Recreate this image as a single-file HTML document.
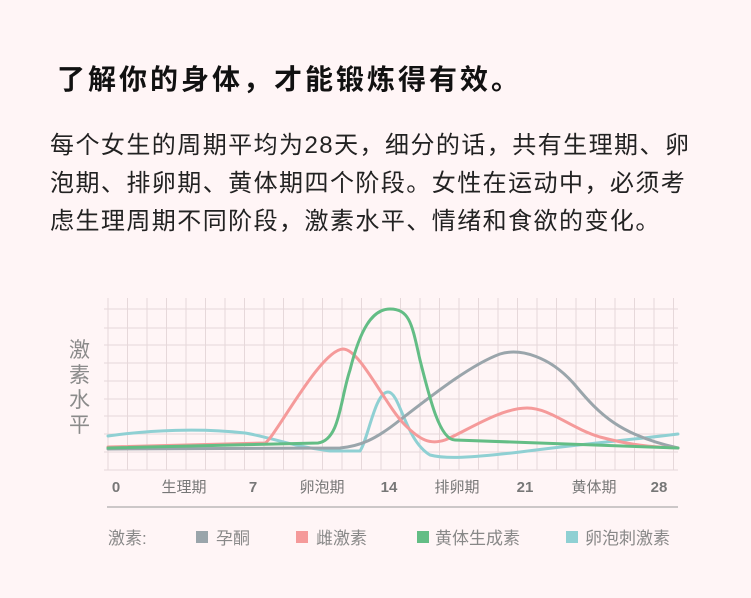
<!DOCTYPE html>
<html><head><meta charset="utf-8"><style>
body{margin:0;width:751px;height:598px;background:#fff5f6;font-family:"Liberation Sans","Noto Sans CJK SC",sans-serif;overflow:hidden;position:relative}
.t{position:absolute;left:57px;top:58px;font-size:28px;font-weight:bold;color:#111;letter-spacing:3px;white-space:nowrap}
.p{position:absolute;left:50px;top:127px;font-size:24px;line-height:38px;color:#222;letter-spacing:1.45px;width:720px;white-space:nowrap}
</style></head><body>
<div class="t">了解你的身体，才能锻炼得有效。</div>
<div class="p">每个女生的周期平均为28天，细分的话，共有生理期、卵<br>泡期、排卵期、黄体期四个阶段。女性在运动中，必须考<br>虑生理周期不同阶段，激素水平、情绪和食欲的变化。</div>
<svg width="751" height="598" style="position:absolute;left:0;top:0" font-family="Liberation Sans, Noto Sans CJK SC, sans-serif">
<g stroke="#e6d8da" stroke-width="1">
<path d="M108 298V470M127.5 298V470M147 298V470M166.5 298V470M186 298V470M205.5 298V470M225 298V470M244.5 298V470M264 298V470M283.5 298V470M303 298V470M322.5 298V470M342 298V470M361.5 298V470M381 298V470M400.5 298V470M420 298V470M439.5 298V470M459 298V470M478.5 298V470M498 298V470M517.5 298V470M537 298V470M556.5 298V470M576 298V470M595.5 298V470M615 298V470M634.5 298V470M654 298V470M673.5 298V470"/>
<path d="M104 309H678M104 328H678M104 345H678M104 363H678M104 381H678M104 399H678M104 416H678M104 434H678M104 452H678M104 470H678"/>
</g>
<line x1="107" y1="507" x2="678" y2="507" stroke="#999" stroke-width="1"/>
<g fill="none" stroke-width="3" stroke-linecap="round">
<path stroke="#8fd0d3" d="M108 436 C150 430 200 428 245 433 C270 437 290 446 330 451 L360 451 C368 440 375 392 388 392 C400 392 405 440 430 455 C445 459 470 458 520 452 C580 444 630 440 678 434"/>
<path stroke="#9aa5ab" d="M108 449 L340 448 C360 446 375 440 400 420 C430 397 470 365 500 354 C520 348 550 356 575 385 C600 415 620 435 678 448"/>
<path stroke="#f59a9a" d="M108 447 L265 443 C275 438 320 350 343 349 C360 349 385 405 405 425 C420 440 430 445 445 440 C465 432 500 408 527 408 C550 408 570 428 600 437 C630 445 650 447 678 448"/>
<path stroke="#63bd85" d="M108 448 L318 443 C340 440 340 400 350 370 C360 330 372 309 390 309 C410 309 412 325 420 360 C430 400 440 440 455 440 L678 448"/>
</g>
<g fill="#8a8a8a" font-size="21"><text x="69" y="357">激</text><text x="69" y="382">素</text><text x="69" y="407">水</text><text x="69" y="432">平</text></g>
<g fill="#777" font-size="15" text-anchor="middle">
<text x="116" y="492" font-weight="bold">0</text><text x="184" y="492">生理期</text><text x="253" y="492" font-weight="bold">7</text><text x="322" y="492">卵泡期</text><text x="389" y="492" font-weight="bold">14</text><text x="457" y="492">排卵期</text><text x="525" y="492" font-weight="bold">21</text><text x="594" y="492">黄体期</text><text x="659" y="492" font-weight="bold">28</text>
</g>
<g font-size="17" fill="#888">
<text x="108" y="544">激素:</text>
<rect x="196" y="531" width="12" height="12" fill="#9aa5ab"/><text x="216" y="544">孕酮</text>
<rect x="296" y="531" width="12" height="12" fill="#f59a9a"/><text x="316" y="544">雌激素</text>
<rect x="417" y="531" width="12" height="12" fill="#63bd85"/><text x="435" y="544">黄体生成素</text>
<rect x="566" y="531" width="12" height="12" fill="#8fd0d3"/><text x="585" y="544">卵泡刺激素</text>
</g>
</svg>
</body></html>
